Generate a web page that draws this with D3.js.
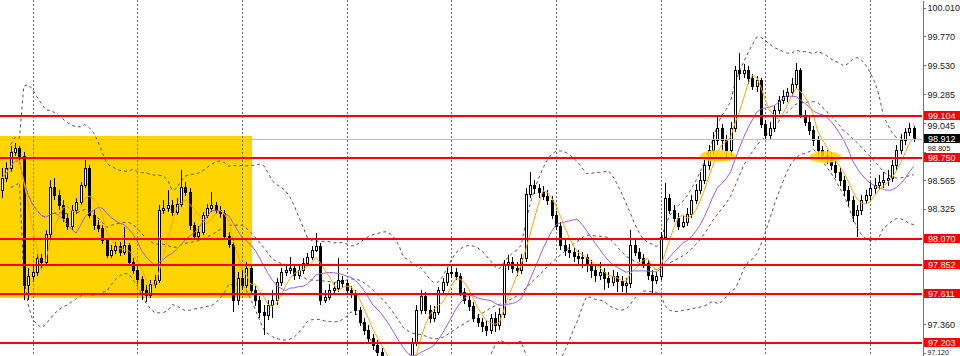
<!DOCTYPE html>
<html>
<head>
<meta charset="utf-8">
<script src="https://cdn.jsdelivr.net/npm/d3@7"></script>
<style>
body { margin: 0; background: #fff; }
svg { display: block; font-family: "Liberation Sans", Arial, sans-serif; }
.axis path, .axis line { stroke: #777; shape-rendering: crispEdges; }
.axis text { fill: #222; font-size: 9px; }
</style>
</head>
<body>
<svg id="chart" width="960" height="356"></svg>
<script>

// candles (bar 0 = leftmost)
var open = [98.484,98.585,98.668,98.802,98.836,98.769,97.689,97.764,97.797,97.915,
97.881,98.116,98.509,98.442,98.359,98.250,98.183,98.317,98.384,98.526,
98.668,98.275,98.191,98.166,98.065,97.940,97.982,98.015,97.965,98.024,
97.881,97.814,97.739,97.647,97.605,97.697,97.730,98.317,98.333,98.359,
98.300,98.367,98.509,98.467,98.191,98.099,98.132,98.275,98.333,98.359,
98.317,98.292,98.099,98.032,97.563,97.747,97.689,97.831,97.647,97.563,
97.462,97.437,97.521,97.563,97.714,97.797,97.814,97.831,97.772,97.814,
97.873,97.923,97.982,98.015,97.563,97.588,97.647,97.663,97.730,97.705,
97.647,97.622,97.479,97.379,97.312,97.245,97.186,97.127,97.060,96.993,
96.960,96.926,96.893,96.943,96.993,97.211,97.479,97.596,97.479,97.412,
97.462,97.647,97.714,97.789,97.797,97.764,97.630,97.563,97.513,97.412,
97.379,97.345,97.312,97.412,97.354,97.446,97.856,97.881,97.831,97.814,
97.915,98.451,98.526,98.501,98.467,98.434,98.400,98.275,98.183,98.024,
97.982,97.965,97.931,97.915,97.923,97.856,97.814,97.772,97.797,97.747,
97.714,97.764,97.722,97.689,97.705,98.024,97.965,97.915,97.873,97.772,
97.730,97.764,98.091,98.417,98.317,98.250,98.183,98.216,98.283,98.400,
98.484,98.568,98.694,98.819,98.903,99.003,98.903,98.819,99.003,99.489,
99.464,99.489,99.422,99.355,99.405,99.037,98.945,99.003,99.154,99.238,
99.272,99.305,99.372,99.489,99.112,99.054,98.987,98.903,98.819,98.777,
98.752,98.694,98.635,98.568,98.484,98.400,98.275,98.317,98.400,98.442,
98.501,98.526,98.551,98.568,98.585,98.694,98.819,98.903,98.970,99.003];

var high = [98.668,98.719,98.853,98.878,98.853,98.802,97.831,97.856,97.948,97.948,
98.149,98.568,98.585,98.484,98.400,98.283,98.359,98.417,98.551,98.735,
98.694,98.317,98.233,98.191,98.082,98.024,98.049,98.049,98.174,98.040,
97.915,97.848,97.764,97.689,97.730,97.772,98.359,98.400,98.484,98.400,
98.417,98.652,98.551,98.501,98.216,98.183,98.300,98.367,98.467,98.384,
98.350,98.317,98.132,98.065,97.797,97.814,97.881,97.856,97.680,97.596,
97.521,97.563,97.647,97.747,97.831,97.856,97.923,97.864,97.848,97.915,
97.957,98.015,98.124,98.040,97.647,97.697,97.705,97.915,97.764,97.730,
97.680,97.647,97.504,97.412,97.354,97.278,97.228,97.161,97.094,97.044,
97.010,96.977,96.993,97.044,97.245,97.521,97.647,97.630,97.521,97.513,
97.672,97.747,97.831,97.856,97.831,97.789,97.663,97.596,97.546,97.446,
97.412,97.395,97.446,97.462,97.496,97.898,97.940,97.923,97.881,97.948,
98.501,98.635,98.568,98.534,98.518,98.484,98.434,98.308,98.216,98.065,
98.032,97.998,97.982,97.965,97.948,97.898,97.864,97.881,97.831,97.797,
97.814,97.797,97.764,97.747,98.149,98.065,97.998,97.948,97.898,97.814,
97.797,98.132,98.543,98.451,98.359,98.292,98.266,98.333,98.442,98.534,
98.635,98.735,98.861,98.970,99.096,99.037,98.945,99.054,99.523,99.632,
99.540,99.523,99.456,99.439,99.422,99.070,99.054,99.188,99.272,99.322,
99.338,99.422,99.548,99.506,99.154,99.104,99.020,98.936,98.853,98.819,
98.802,98.735,98.668,98.601,98.518,98.434,98.359,98.442,98.484,98.551,
98.585,98.610,98.635,98.652,98.735,98.861,98.953,99.003,99.045,99.020];

var low = [98.417,98.551,98.635,98.769,98.735,97.563,97.563,97.714,97.764,97.831,
97.856,98.082,98.400,98.317,98.216,98.149,98.149,98.283,98.359,98.501,
98.250,98.149,98.132,98.032,97.915,97.915,97.948,97.931,97.940,97.848,
97.781,97.697,97.563,97.546,97.580,97.663,97.705,98.283,98.300,98.266,
98.275,98.342,98.434,98.149,98.065,98.082,98.107,98.250,98.300,98.283,
98.250,98.065,97.998,97.462,97.521,97.647,97.663,97.613,97.513,97.412,
97.270,97.395,97.412,97.521,97.680,97.764,97.781,97.730,97.739,97.781,
97.848,97.898,97.965,97.521,97.538,97.563,97.613,97.630,97.663,97.613,
97.580,97.437,97.345,97.270,97.211,97.144,97.077,97.010,96.943,96.910,
96.876,96.843,96.859,96.910,96.960,97.178,97.446,97.446,97.370,97.379,
97.437,97.613,97.680,97.747,97.730,97.596,97.529,97.471,97.379,97.337,
97.295,97.261,97.278,97.295,97.312,97.412,97.814,97.789,97.764,97.781,
97.881,98.417,98.451,98.417,98.400,98.359,98.241,98.149,97.982,97.931,
97.915,97.881,97.864,97.831,97.797,97.747,97.714,97.730,97.647,97.663,
97.680,97.630,97.630,97.622,97.663,97.931,97.881,97.831,97.730,97.622,
97.697,97.730,98.065,98.283,98.216,98.149,98.166,98.183,98.250,98.367,
98.451,98.534,98.652,98.777,98.861,98.819,98.752,98.769,98.970,99.405,
99.422,99.372,99.322,99.305,99.003,98.903,98.903,98.970,99.121,99.204,
99.221,99.272,99.338,99.087,99.020,98.945,98.853,98.777,98.735,98.702,
98.652,98.585,98.518,98.434,98.350,98.216,98.091,98.275,98.367,98.400,
98.451,98.484,98.501,98.518,98.551,98.652,98.786,98.861,98.936,98.886];

var close = [98.585,98.668,98.802,98.836,98.769,97.689,97.764,97.797,97.915,97.881,
98.116,98.509,98.442,98.359,98.250,98.183,98.317,98.384,98.526,98.668,
98.275,98.191,98.166,98.065,97.940,97.982,98.015,97.965,98.024,97.881,
97.814,97.739,97.647,97.605,97.697,97.730,98.317,98.333,98.359,98.300,
98.367,98.509,98.467,98.191,98.099,98.132,98.275,98.333,98.359,98.317,
98.292,98.099,98.032,97.563,97.747,97.689,97.831,97.647,97.563,97.462,
97.437,97.521,97.563,97.714,97.797,97.814,97.831,97.772,97.814,97.873,
97.923,97.982,98.015,97.563,97.588,97.647,97.663,97.730,97.705,97.647,
97.622,97.479,97.379,97.312,97.245,97.186,97.127,97.060,96.993,96.960,
96.926,96.893,96.943,96.993,97.211,97.479,97.596,97.479,97.412,97.462,
97.647,97.714,97.789,97.797,97.764,97.630,97.563,97.513,97.412,97.379,
97.345,97.312,97.412,97.354,97.446,97.856,97.881,97.831,97.814,97.915,
98.451,98.526,98.501,98.467,98.434,98.400,98.275,98.183,98.024,97.982,
97.965,97.931,97.915,97.923,97.856,97.814,97.772,97.797,97.747,97.714,
97.764,97.722,97.689,97.705,98.024,97.965,97.915,97.873,97.772,97.730,
97.764,98.091,98.417,98.317,98.250,98.183,98.216,98.283,98.400,98.484,
98.568,98.694,98.819,98.903,99.003,98.903,98.819,99.003,99.489,99.464,
99.489,99.422,99.355,99.405,99.037,98.945,99.003,99.154,99.238,99.272,
99.305,99.372,99.489,99.112,99.054,98.987,98.903,98.819,98.777,98.752,
98.694,98.635,98.568,98.484,98.400,98.275,98.317,98.400,98.442,98.501,
98.526,98.551,98.568,98.585,98.694,98.819,98.903,98.970,99.003,98.911];

// period separators (bar index)
var gridBars = [7, 31, 55, 79, 103, 127, 151, 175, 199];

// price scale labels
var axisTicks = [100.010, 99.770, 99.530, 99.285, 99.045, 98.805, 98.565, 98.325, 97.360, 97.120];

// horizontal levels (red) and current bid
var levels = [99.104, 98.750, 98.070, 97.852, 97.611, 97.203];
var lastPrice = 98.912;

// yellow range box: bars and prices
var zoneBars = [-1, 57.3];
var zonePrices = [98.937, 97.580];

// yellow touch marks on 98.750
var touchBars = [164.1, 188.7];
var touchPrices = [98.769, 98.761];

var fastPeriod = 5, slowPeriod = 13, bandPeriod = 20, bandDev = 2;

var width = 960, height = 356, plotRight = 922;

var x = d3.scaleLinear().domain([0, close.length - 1]).range([2, 913.8]);
var y = d3.scaleLinear().domain([97.094, 100.0755]).range([height, 0]);
var fmt = d3.format(".3f");

var svg = d3.select("#chart");

svg.append("defs").append("clipPath").attr("id", "plot")
  .append("rect").attr("width", plotRight).attr("height", height);

var g = svg.append("g").attr("clip-path", "url(#plot)");

// range box
g.append("rect")
  .attr("x", x(zoneBars[0]))
  .attr("y", y(zonePrices[0]))
  .attr("width", x(zoneBars[1]) - x(zoneBars[0]))
  .attr("height", y(zonePrices[1]) - y(zonePrices[0]))
  .attr("fill", "#ffd400");

// vertical separators
g.selectAll("line.sep")
  .data(gridBars).enter().append("line")
  .attr("class", "sep")
  .attr("x1", d => Math.round(x(d)) + 0.5)
  .attr("x2", d => Math.round(x(d)) + 0.5)
  .attr("y1", 0).attr("y2", height)
  .attr("stroke", "#6e6e6e")
  .attr("stroke-dasharray", "2,2");

var bars = close.map((c, i) => ({ i: i, o: open[i], h: high[i], l: low[i], c: c }));

// indicators
function sma(arr, n, i) {
  return d3.mean(arr.slice(Math.max(0, i - n + 1), i + 1));
}
var fast = close.map((c, i) => ({ i: i, v: sma(close, fastPeriod, i) }));
var slow = close.map((c, i) => ({ i: i, v: sma(close, slowPeriod, i) }));
var bands = close.map((c, i) => {
  var w = close.slice(Math.max(0, i - bandPeriod + 1), i + 1);
  var m = d3.mean(w);
  var sd = Math.sqrt(d3.mean(w, v => (v - m) * (v - m)));
  return { i: i, mid: m, up: m + bandDev * sd, lo: m - bandDev * sd };
}).filter(d => d.i >= 2);

var line = d3.line().x(d => x(d.i)).y(d => y(d.v));

["up", "mid", "lo"].forEach(k => {
  g.append("path")
    .datum(bands.map(d => ({ i: d.i, v: d[k] })))
    .attr("d", line)
    .attr("fill", "none")
    .attr("stroke", "#555")
    .attr("stroke-width", 1)
    .attr("stroke-dasharray", "3,3");
});

// candles
g.selectAll("line.wick")
  .data(bars).enter().append("line")
  .attr("class", "wick")
  .attr("x1", d => Math.round(x(d.i)) + 0.5)
  .attr("x2", d => Math.round(x(d.i)) + 0.5)
  .attr("y1", d => y(d.h))
  .attr("y2", d => y(d.l))
  .attr("stroke", "#000");

g.selectAll("rect.body")
  .data(bars).enter().append("rect")
  .attr("class", "body")
  .attr("x", d => Math.round(x(d.i)) - 0.5)
  .attr("y", d => Math.round(y(Math.max(d.o, d.c))) + 0.5)
  .attr("width", 2)
  .attr("height", d => Math.max(Math.round(y(Math.min(d.o, d.c))) - Math.round(y(Math.max(d.o, d.c))), 0.01))
  .attr("fill", d => d.c > d.o ? "#fff" : "#000")
  .attr("stroke", "#000");

// moving averages
g.append("path").datum(slow)
  .attr("d", line)
  .attr("fill", "none").attr("stroke", "#9a5cf0").attr("stroke-width", 1);
g.append("path").datum(fast)
  .attr("d", line)
  .attr("fill", "none").attr("stroke", "#ffa500").attr("stroke-width", 1);

// touch marks
g.selectAll("ellipse.touch")
  .data(touchBars).enter().append("ellipse")
  .attr("cx", d => x(d))
  .attr("cy", (d, i) => y(touchPrices[i]))
  .attr("rx", (d, i) => i == 0 ? 18 : 16)
  .attr("ry", 6)
  .attr("fill", "#ffd400")
  .attr("fill-opacity", 0.85);

// current price line
g.append("line")
  .attr("x1", 0).attr("x2", plotRight)
  .attr("y1", Math.round(y(lastPrice)) + 0.5)
  .attr("y2", Math.round(y(lastPrice)) + 0.5)
  .attr("stroke", "#c0c0c0");

// levels
g.selectAll("line.level")
  .data(levels).enter().append("line")
  .attr("class", "level")
  .attr("x1", 0).attr("x2", plotRight)
  .attr("y1", d => Math.round(y(d)))
  .attr("y2", d => Math.round(y(d)))
  .attr("stroke", "#ff0000")
  .attr("stroke-width", 2);

// price axis; labels squeezed between the tags get nudged / shrunk a bit
var nudge = { "99.045": 3.0, "98.805": -3.3, "97.120": -0.85 };
var squeeze = { "98.805": "7.5px", "97.120": "7px" };

svg.append("g")
  .attr("class", "axis")
  .attr("transform", `translate(${plotRight + 0.5},0)`)
  .call(d3.axisRight(y).tickValues(axisTicks).tickFormat(fmt)
    .tickSize(3).tickSizeOuter(0).tickPadding(2))
  .call(a => a.selectAll("text")
    .attr("font-family", null).attr("font-size", null)
    .attr("y", d => nudge[fmt(d)] || 0)
    .style("font-size", d => squeeze[fmt(d)] || null));

var tags = levels.map(v => ({ v: v, bg: "#ff0000" })).concat([{ v: lastPrice, bg: "#000" }]);

var tag = svg.selectAll("g.tag")
  .data(tags).enter().append("g")
  .attr("class", "tag")
  .attr("transform", d => `translate(${plotRight + 2},${Math.round(y(d.v))})`);
tag.append("rect")
  .attr("x", 0).attr("y", -5)
  .attr("width", 36).attr("height", 9)
  .attr("fill", d => d.bg);
tag.append("text")
  .attr("x", 4).attr("y", 2.8)
  .attr("fill", "#fff")
  .attr("font-size", 9)
  .text(d => fmt(d.v));

</script>
</body>
</html>
